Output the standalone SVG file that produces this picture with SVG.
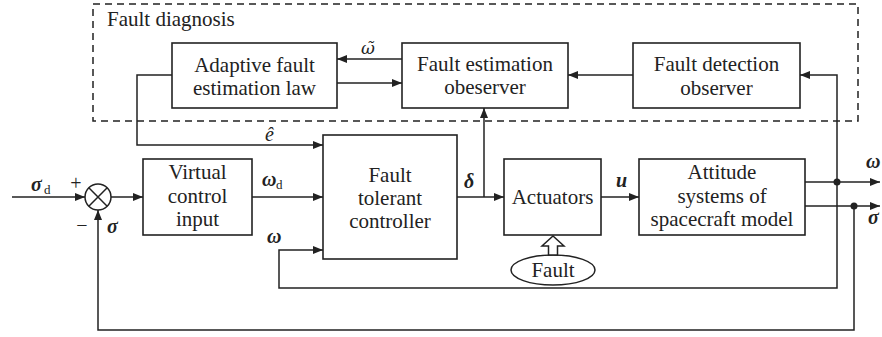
<svg xmlns="http://www.w3.org/2000/svg" width="882" height="337" viewBox="0 0 882 337">
  <style>
    .box { fill: #fff; stroke: #222; stroke-width: 1.6; }
    .wire { fill: none; stroke: #222; stroke-width: 1.5; }
    .lbl { font-family: "Liberation Serif", "DejaVu Serif", "Times New Roman", serif; font-size: 21px; fill: #222; text-anchor: middle; }
    .sym { font-family: "Liberation Serif", "DejaVu Serif", "Times New Roman", serif; font-size: 20px; font-weight: bold; font-style: italic; fill: #222; }
    .sub { font-family: "Liberation Serif", "DejaVu Serif", "Times New Roman", serif; font-size: 13px; fill: #222; }
    .ital { font-family: "Liberation Serif", "DejaVu Serif", "Times New Roman", serif; font-size: 20px; font-style: italic; fill: #222; }
  </style>
  <defs>
    <marker id="arrow" viewBox="0 0 10 8" refX="10" refY="4" markerWidth="10" markerHeight="8" markerUnits="userSpaceOnUse" orient="auto">
      <path d="M0,0 L10,4 L0,8 z" fill="#222"/>
    </marker>
  </defs>

  <rect width="882" height="337" fill="#fff"/>

  <!-- fault diagnosis region -->
  <g id="fault-diagnosis">
    <rect x="93" y="4" width="765" height="117" fill="none" stroke="#222" stroke-width="1.5" stroke-dasharray="7,5"/>
    <text class="lbl" x="107" y="26" style="text-anchor:start">Fault diagnosis</text>
  </g>

  <!-- blocks -->
  <g id="adaptive-law">
    <rect class="box" x="172" y="43" width="165" height="65"/>
    <text class="lbl" x="254.5" y="72">Adaptive fault</text>
    <text class="lbl" x="254.5" y="95">estimation law</text>
  </g>
  <g id="estimation-observer">
    <rect class="box" x="402" y="43" width="166" height="65"/>
    <text class="lbl" x="485" y="71">Fault estimation</text>
    <text class="lbl" x="485" y="94">obeserver</text>
  </g>
  <g id="detection-observer">
    <rect class="box" x="633" y="43" width="167" height="65"/>
    <text class="lbl" x="716.5" y="71">Fault detection</text>
    <text class="lbl" x="716.5" y="95">observer</text>
  </g>
  <g id="summing-junction">
    <circle cx="98" cy="197" r="13" fill="#fff" stroke="#222" stroke-width="1.5"/>
    <path d="M88.8,187.8 L107.2,206.2 M107.2,187.8 L88.8,206.2" stroke="#222" stroke-width="1.5"/>
  </g>
  <g id="virtual-control">
    <rect class="box" x="143" y="159" width="109" height="76"/>
    <text class="lbl" x="197.5" y="179">Virtual</text>
    <text class="lbl" x="197.5" y="203">control</text>
    <text class="lbl" x="197.5" y="226">input</text>
  </g>
  <g id="ftc">
    <rect class="box" x="323" y="135" width="134" height="124"/>
    <text class="lbl" x="390" y="182">Fault</text>
    <text class="lbl" x="390" y="205">tolerant</text>
    <text class="lbl" x="390" y="228">controller</text>
  </g>
  <g id="actuators">
    <rect class="box" x="504" y="159" width="97" height="76"/>
    <text class="lbl" x="552.5" y="204">Actuators</text>
  </g>
  <g id="attitude-model">
    <rect class="box" x="639" y="159" width="166" height="76"/>
    <text class="lbl" x="722" y="179">Attitude</text>
    <text class="lbl" x="722" y="203">systems of</text>
    <text class="lbl" x="722" y="226">spacecraft model</text>
  </g>
  <g id="fault">
    <ellipse cx="553" cy="270" rx="42" ry="15" fill="#fff" stroke="#222" stroke-width="1.5"/>
    <text class="lbl" x="553" y="277">Fault</text>
    <polygon points="553,236 564,246 557.5,246 557.5,255 548.5,255 548.5,246 542,246" fill="#fff" stroke="#222" stroke-width="1.5"/>
  </g>

  <!-- signal lines -->
  <g id="connectors" class="wire">
    <path d="M12,197 H85" marker-end="url(#arrow)"/>
    <path d="M111,197 H143" marker-end="url(#arrow)"/>
    <path d="M252,197 H323" marker-end="url(#arrow)"/>
    <path d="M172,75 H137 V145 H323" marker-end="url(#arrow)"/>
    <path d="M837,182 V288 H279 V250 H323" marker-end="url(#arrow)"/>
    <path d="M837,182 V75 H800" marker-end="url(#arrow)"/>
    <path d="M854,206 V330 H98 V210" marker-end="url(#arrow)"/>
    <path d="M457,197 H504" marker-end="url(#arrow)"/>
    <path d="M484,197 V108" marker-end="url(#arrow)"/>
    <path d="M601,197 H639" marker-end="url(#arrow)"/>
    <path d="M805,182 H880" marker-end="url(#arrow)"/>
    <path d="M805,206 H880" marker-end="url(#arrow)"/>
    <path d="M633,75 H568" marker-end="url(#arrow)"/>
    <path d="M402,59 H337" marker-end="url(#arrow)"/>
    <path d="M337,83 H402" marker-end="url(#arrow)"/>
    <circle cx="837" cy="182" r="3.5" fill="#222" stroke="none"/>
    <circle cx="854" cy="206" r="3.5" fill="#222" stroke="none"/>
  </g>

  <!-- signal labels -->
  <g id="labels">
    <text class="sym" x="31" y="191">σ</text>
    <text class="sub" x="44" y="194">d</text>
    <text class="lbl" x="76" y="190" style="font-size:20px">+</text>
    <text class="lbl" x="82" y="232" style="font-size:20px">−</text>
    <text class="sym" x="107" y="233">σ</text>
    <text class="sym" x="262" y="186">ω</text>
    <text class="sub" x="276" y="189">d</text>
    <text class="sym" x="267" y="243">ω</text>
    <text class="ital" x="265" y="141">ê</text>
    <text class="ital" x="361" y="54" style="font-family:'DejaVu Serif', serif; font-size:17px">ω̃</text>
    <text class="sym" x="464" y="188">δ</text>
    <text class="sym" x="616" y="187">u</text>
    <text class="sym" x="866" y="168">ω</text>
    <text class="sym" x="868" y="224">σ</text>
  </g>
</svg>
